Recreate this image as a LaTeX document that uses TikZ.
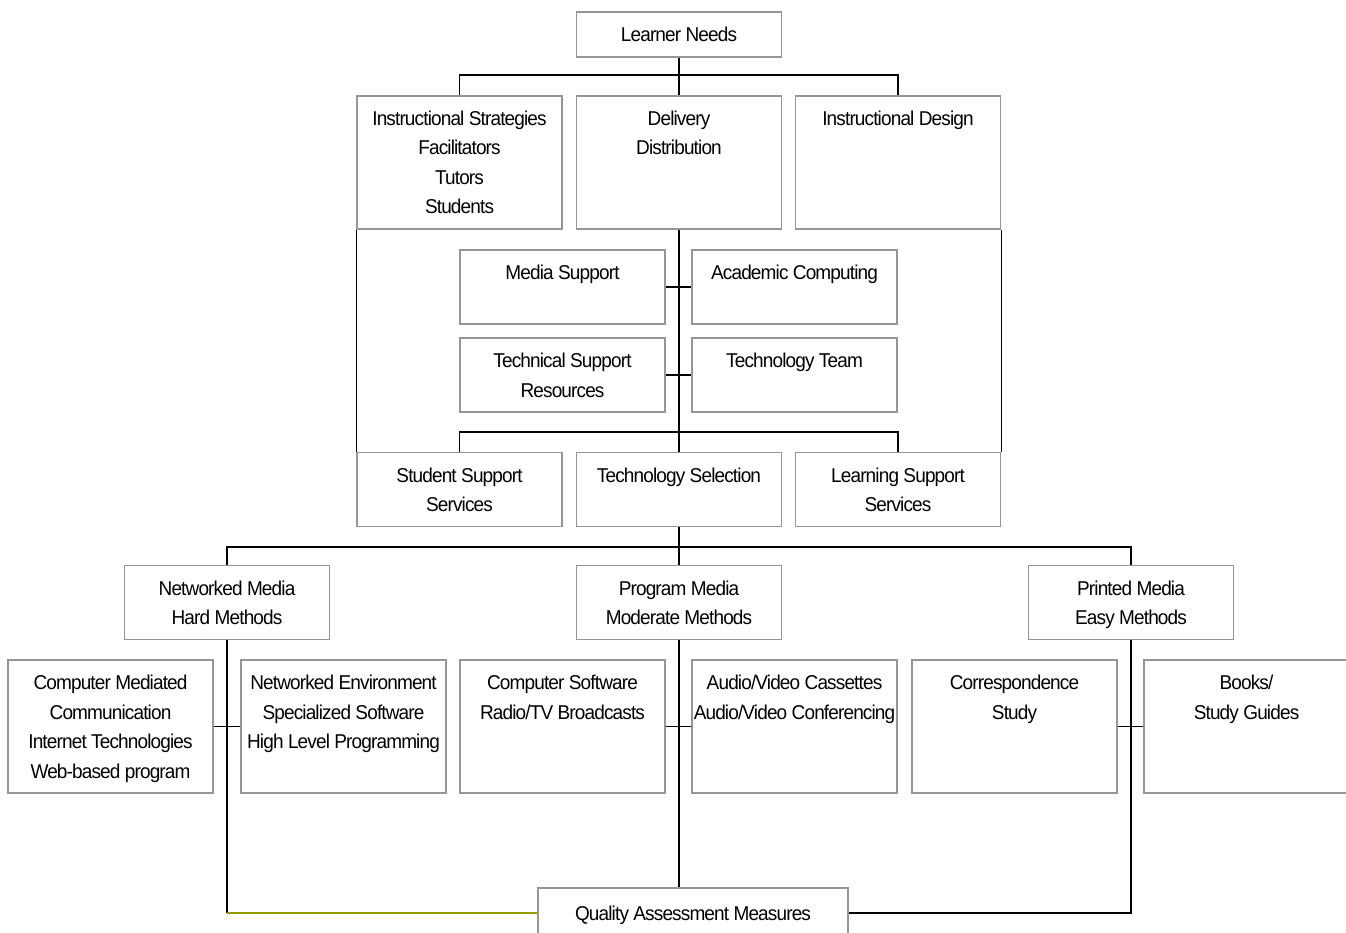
\documentclass[tikz,border=0pt]{standalone}
\usepackage{fontspec}
\setmainfont{Liberation Sans}[FakeStretch=0.95,LetterSpace=-4.3]
\definecolor{boxgray}{RGB}{150,150,150}
\definecolor{lineolive}{RGB}{153,153,0}
\newcommand\lines[1]{\begin{tabular}[t]{@{}c@{}}#1\end{tabular}}
\begin{document}
\begin{tikzpicture}[%
        x=1pt, y=-1pt,
        box/.style={draw=boxgray, line width=1.3pt, minimum width=205pt, inner sep=0pt,
                    text height=29.5pt, font=\fontsize{20}{29.5}\selectfont},
        tall/.style={box, text depth=103.5pt},
        mid/.style={box, text depth=44.5pt},
        low/.style={box, text depth=15.5pt},
        conn/.style={line width=1.2pt}
    ]
    \clip (0,0) rectangle (1346,933);
    % top rows
    \node [low] (needs) at (679,34.5) {\lines{Learner Needs}};
    \node [tall] (strategies) at (459.5,162.5) {\lines{Instructional Strategies\\Facilitators\\Tutors\\Students}};
    \node [tall] (delivery) at (679,162.5) {\lines{Delivery\\Distribution}};
    \node [tall] (design) at (898,162.5) {\lines{Instructional Design}};
    \node [mid] (media) at (562.5,287) {\lines{Media Support}};
    \node [mid] (academic) at (794.5,287) {\lines{Academic Computing}};
    \node [mid] (techsupport) at (562.5,375) {\lines{Technical Support\\Resources}};
    \node [mid] (team) at (794.5,375) {\lines{Technology Team}};
    \node [mid] (student) at (459.5,489.5) {\lines{Student Support\\Services}};
    \node [mid] (selection) at (679,489.5) {\lines{Technology Selection}};
    \node [mid] (learning) at (898,489.5) {\lines{Learning Support\\Services}};
    % media rows
    \node [mid] (networked) at (227,602.5) {\lines{Networked Media\\Hard Methods}};
    \node [mid] (program) at (679,602.5) {\lines{Program Media\\Moderate Methods}};
    \node [mid] (printed) at (1131,602.5) {\lines{Printed Media\\Easy Methods}};
    \node [tall] (cmc) at (110.5,726.5) {\lines{Computer Mediated\\Communication\\Internet Technologies\\Web-based program}};
    \node [tall] (netenv) at (343.5,726.5) {\lines{Networked Environment\\Specialized Software\\High Level Programming}};
    \node [tall] (software) at (562.5,726.5) {\lines{Computer Software\\Radio/TV Broadcasts}};
    \node [tall] (audio) at (794.5,726.5) {\lines{Audio/Video Cassettes\\Audio/Video Conferencing}};
    \node [tall] (corresp) at (1014.5,726.5) {\lines{Correspondence\\Study}};
    \node [tall] (books) at (1246.5,726.5) {\lines{Books/\\Study Guides}};
    \node [box, minimum width=310pt, text height=32pt, text depth=18pt] (quality) at (693,913) {\lines{Quality Assessment Measures}};
    % connectors
    \coordinate (topbar) at (679,75);
    \coordinate (midbar) at (679,432);
    \coordinate (lowbar) at (679,547);
    \draw [conn] (needs) -- (delivery);
    \draw [conn] (strategies.north) |- (topbar) -| (design.north);
    \draw [conn] (strategies.south west) -- (student.north west);
    \draw [conn] (design.south east) -- (learning.north east);
    \draw [conn] (delivery) -- (selection);
    \draw [conn] (media) -- (academic);
    \draw [conn] (techsupport) -- (team);
    \draw [conn] (student.north) |- (midbar) -| (learning.north);
    \draw [conn] (networked.north) |- (lowbar) -| (printed.north);
    \draw [conn] (selection) -- (program);
    \draw [conn] (cmc) -- (netenv);
    \draw [conn] (software) -- (audio);
    \draw [conn] (corresp) -- (books);
    \draw [conn] (networked.south) -- (networked.south |- quality.west);
    \draw [conn, draw=lineolive] (networked.south |- quality.west) -- (quality.west);
    \draw [conn] (program.south) -- (program.south |- quality.north);
    \draw [conn] (printed.south) -- (printed.south |- quality.east) -- (quality.east);
\end{tikzpicture}
\end{document}
